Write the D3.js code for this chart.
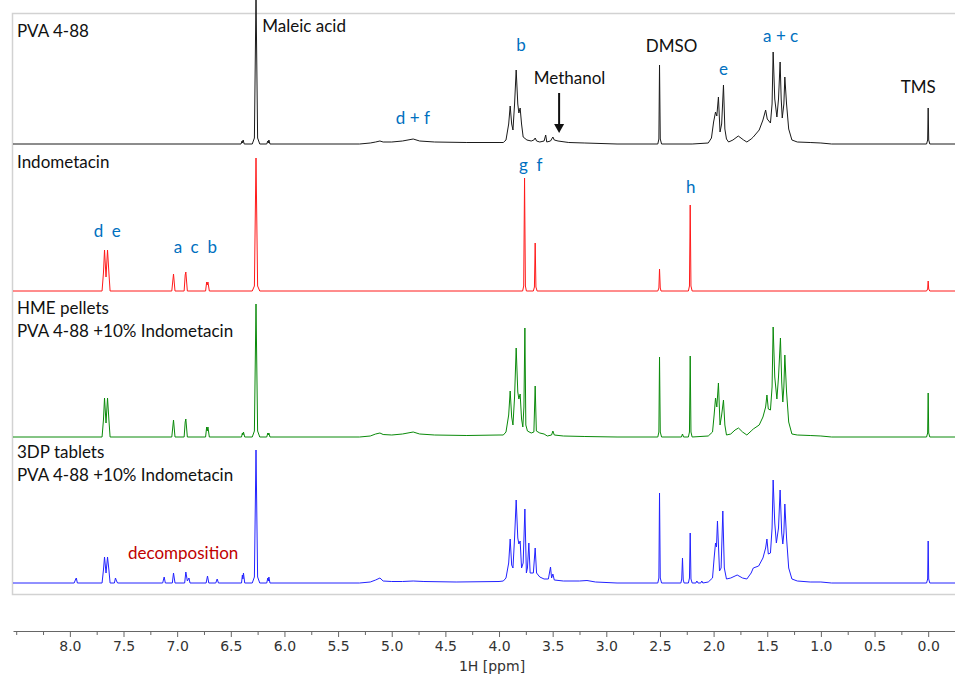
<!DOCTYPE html>
<html>
<head>
<meta charset="utf-8">
<script src="https://cdn.jsdelivr.net/npm/d3@7"></script>
<style>
  body { margin: 0; background: #fff; }
  .label { font-family: Lato, "Open Sans", sans-serif; font-size: 17px; }
  .axis text { font-family: "DejaVu Sans", Verdana, sans-serif; font-size: 14px; fill: #333; }
  .axis path, .axis line { stroke: #666; }
</style>
</head>
<body>
<div class="nmr-container"></div>
<script>
// Spectra: [ppm, intensity] vertices (intensity ~ px above baseline)
const pvaSpectrum = [
  [8.53,0],[6.405,0],[6.395,3],[6.39,1],[6.385,4],[6.375,0],
  [6.30,0],[6.28,6],[6.265,150],[6.25,6],[6.23,0],
  [6.165,0],[6.155,3],[6.15,1],[6.145,4],[6.135,0],
  [5.30,0],[5.20,1],[5.15,2],[5.11,3],[5.08,2],[5.00,2],[4.90,3],[4.80,5],[4.74,3],[4.60,2],[4.30,1.5],[4.00,1.5],
  [3.96,1.5],[3.935,4],[3.91,20],[3.896,38],[3.882,20],[3.87,14],[3.855,40],[3.84,74],[3.825,40],[3.815,31],[3.803,36],[3.79,20],[3.775,7],[3.74,4],[3.70,3],[3.675,4],[3.663,6],[3.65,3],[3.62,2],[3.58,3],[3.565,9],[3.555,2],[3.52,3],[3.498,7],[3.485,4],[3.45,3],[3.35,1.5],[3.20,1],[2.90,0],
  [2.52,0],[2.51,5],[2.504,79],[2.497,5],[2.485,0],
  [2.20,0],[2.05,1],[2.02,6],[2.00,22],[1.982,32],[1.97,28],[1.955,47],[1.94,12],[1.925,20],[1.908,59],[1.895,15],[1.88,5],[1.86,2],[1.82,4],[1.77,8],[1.72,4],[1.69,2],[1.65,5],[1.63,7],[1.575,14],[1.54,24],[1.515,34],[1.50,25],[1.47,21],[1.455,40],[1.445,92],[1.43,45],[1.41,27],[1.395,45],[1.38,82],[1.37,45],[1.36,26],[1.345,40],[1.336,67],[1.32,40],[1.30,15],[1.27,4],[1.22,2],[1.10,1.5],[1.00,1],[0.90,0],
  [0.015,0],[0.005,4],[0.0,36],[-0.005,4],[-0.015,0],[-0.25,0]
];
const indoSpectrum = [
  [8.53,0],[7.70,0],[7.687,18],[7.677,41],[7.663,14],[7.649,41],[7.636,18],[7.625,0],
  [7.05,0],[7.034,17],[7.02,0],
  [6.935,0],[6.925,16],[6.919,19],[6.905,0],
  [6.735,0],[6.725,9],[6.72,6],[6.713,9],[6.70,0],
  [6.30,0],[6.28,5],[6.265,133],[6.25,5],[6.23,0],
  [3.78,0],[3.77,5],[3.762,113],[3.754,5],[3.745,0],
  [3.68,0],[3.67,4],[3.663,48],[3.656,4],[3.645,0],
  [2.52,0],[2.51,3],[2.504,22],[2.497,3],[2.49,0],
  [2.235,0],[2.225,5],[2.218,86],[2.211,5],[2.20,0],
  [0.015,0],[0.005,2],[0.0,10],[-0.005,2],[-0.015,0],[-0.25,0]
];
const hmeSpectrum = [
  [8.53,0],[7.70,0],[7.687,17],[7.677,39],[7.663,14],[7.649,39],[7.636,17],[7.625,0],
  [7.05,0],[7.034,17],[7.02,0],
  [6.935,0],[6.925,15],[6.919,18],[6.905,0],
  [6.735,0],[6.725,10],[6.72,6],[6.713,10],[6.70,0],
  [6.40,0],[6.392,4],[6.387,2],[6.382,5],[6.37,0],
  [6.30,0],[6.28,6],[6.265,133],[6.25,6],[6.23,0],
  [6.165,0],[6.155,4],[6.15,2],[6.145,4],[6.135,0],
  [5.30,0],[5.20,1],[5.15,3],[5.11,4],[5.08,2.5],[5.00,2],[4.90,3],[4.80,5],[4.74,3],[4.60,2],[4.30,1.5],[4.00,2],
  [3.96,2],[3.935,5],[3.91,22],[3.896,46],[3.882,20],[3.87,12],[3.855,40],[3.84,89],[3.825,45],[3.815,38],[3.803,43],[3.79,18],[3.778,10],[3.768,30],[3.759,109],[3.75,12],[3.735,6],[3.70,4],[3.675,5],[3.663,51],[3.652,6],[3.62,4],[3.58,3],[3.55,1],[3.51,2],[3.498,6],[3.485,2],[3.40,1],[3.20,0.5],[2.90,0],
  [2.52,0],[2.51,5],[2.504,80],[2.497,5],[2.485,0],
  [2.30,0],[2.29,3],[2.28,0],
  [2.235,0],[2.225,5],[2.218,81],[2.211,5],[2.20,0],
  [2.05,1],[2.01,5],[1.995,22],[1.982,39],[1.97,30],[1.955,54],[1.94,12],[1.925,22],[1.908,37],[1.895,12],[1.88,2],[1.84,3],[1.80,7],[1.768,9],[1.73,5],[1.69,2],[1.65,6],[1.63,8],[1.575,12],[1.54,20],[1.515,30],[1.503,42],[1.49,28],[1.47,27],[1.455,50],[1.445,110],[1.43,60],[1.41,38],[1.395,60],[1.377,99],[1.365,55],[1.355,35],[1.345,50],[1.336,82],[1.32,45],[1.30,15],[1.27,3],[1.22,2],[1.10,1.5],[1.00,1],[0.90,0],
  [0.015,0],[0.005,4],[0.0,44],[-0.005,4],[-0.015,0],[-0.25,0]
];
const tabletSpectrum = [
  [8.53,0],[7.96,0],[7.945,4],[7.94,5],[7.93,0],
  [7.70,0],[7.687,13],[7.677,26],[7.663,10],[7.649,26],[7.636,13],[7.625,0],
  [7.585,0],[7.575,5],[7.565,2],[7.555,0],
  [7.135,0],[7.121,6],[7.11,0],
  [7.045,0],[7.034,10],[7.02,0],
  [6.93,0],[6.919,11],[6.905,2],[6.89,5],[6.88,0],
  [6.73,0],[6.717,7],[6.705,0],
  [6.64,0],[6.627,4],[6.615,0],
  [6.40,0],[6.392,8],[6.387,4],[6.382,10],[6.37,0],
  [6.30,0],[6.28,6],[6.265,133],[6.25,6],[6.23,0],
  [6.165,0],[6.155,5],[6.15,2],[6.145,6],[6.135,0],
  [5.30,0],[5.20,1],[5.15,3],[5.11,5],[5.08,2],[5.00,1.5],[4.90,1.5],[4.80,2],[4.70,1.5],[4.40,1],[4.00,1.5],
  [3.96,2],[3.935,5],[3.91,20],[3.896,44],[3.882,18],[3.87,15],[3.855,45],[3.84,83],[3.825,45],[3.815,39],[3.803,42],[3.79,15],[3.775,20],[3.759,74],[3.745,10],[3.735,15],[3.722,40],[3.71,10],[3.68,10],[3.663,35],[3.65,10],[3.62,6],[3.58,4],[3.54,4],[3.52,16],[3.51,5],[3.498,9],[3.485,3],[3.40,2],[3.25,2],[3.18,2.5],[3.10,1],[2.90,0],
  [2.52,0],[2.51,5],[2.504,90],[2.497,5],[2.485,0],
  [2.305,0],[2.297,4],[2.29,25],[2.283,3],[2.275,0],
  [2.235,0],[2.225,5],[2.218,50],[2.211,4],[2.20,0],
  [2.165,0],[2.156,2],[2.145,0],[2.12,0],[2.11,2],[2.10,0],
  [2.05,1],[2.01,5],[1.995,25],[1.982,40],[1.973,36],[1.964,62],[1.945,12],[1.93,15],[1.914,72],[1.90,15],[1.88,4],[1.84,5],[1.80,7],[1.78,8],[1.73,5],[1.69,4],[1.65,10],[1.63,15],[1.58,17],[1.54,25],[1.515,35],[1.503,44],[1.49,29],[1.47,30],[1.455,55],[1.445,103],[1.43,60],[1.415,40],[1.395,55],[1.38,93],[1.365,50],[1.355,39],[1.345,50],[1.336,79],[1.32,45],[1.30,15],[1.27,4],[1.22,2],[1.10,1],[1.00,1],[0.90,0],
  [0.015,0],[0.005,4],[0.0,42],[-0.005,4],[-0.015,0],[-0.25,0]
];

const sampleNames = [['PVA 4-88'], ['Indometacin'], ['HME pellets', 'PVA 4-88 +10% Indometacin'], ['3DP tablets', 'PVA 4-88 +10% Indometacin']];
const spectra = [pvaSpectrum, indoSpectrum, hmeSpectrum, tabletSpectrum];
const lineColors = ['#1a1a1a', '#ff1a1a', '#0a8a0a', '#2222ff'];

// peak labels: [text, ppm, panel]
const peakLabels = [
  ['Maleic acid', 6.207, 0], ['d + f', 4.803, 0], ['b', 3.796, 0], ['Methanol', 3.343, 0],
  ['DMSO', 2.392, 0], ['e', 1.908, 0], ['a + c', 1.375, 0], ['TMS', 0.093, 0],
  ['d', 7.733, 1], ['e', 7.568, 1], ['a', 6.993, 1], ['c', 6.838, 1], ['b', 6.673, 1],
  ['g', 3.772, 1], ['f', 3.623, 1], ['h', 2.212, 1],
  ['decomposition', 6.944, 3]
];
const majorTicks = [8.0, 7.5, 7.0, 6.5, 6.0, 5.5, 5.0, 4.5, 4.0, 3.5, 3.0, 2.5, 2.0, 1.5, 1.0, 0.5, 0.0];
const minorTicks = [8.5, 8.25, 7.75, 7.25, 6.75, 6.25, 5.75, 5.25, 4.75, 4.25, 3.75, 3.25, 2.75, 2.25, 1.75, 1.25, 0.75, 0.25];
const methanolPpm = 3.44;

// layout
const svg_width = 955, svg_height = 675;
const baselines = [144, 291, 437, 583];
const titleY = [37, 168, 314, 458];
// label y (px), same order as peakLabels
const labelY = [32, 124, 51, 84, 51.5, 75, 41.7, 93, 236.7, 236.7, 253.3, 253.3, 253.3, 171, 171, 192.7, 559.3];
const labelColor = {'Maleic acid':'#111','Methanol':'#111','DMSO':'#111','TMS':'#111','decomposition':'#c00000'};

const svg = d3.select('.nmr-container').append('svg')
  .attr('width', svg_width).attr('height', svg_height);

const xScale = d3.scaleLinear().domain([8.53, -0.25]).range([13, 955]);

// light frame around the stacked spectra
svg.append('rect')
  .attr('x', 12.5).attr('y', 13.5).attr('width', 960).attr('height', 581)
  .attr('fill', 'none').attr('stroke', '#d2d2d2').attr('stroke-width', 1.5);

// spectra
spectra.forEach((spec, i) => {
  const yScale = d3.scaleLinear().domain([0, 100]).range([baselines[i], baselines[i] - 100]);
  const line = d3.line().x(d => xScale(d[0])).y(d => yScale(d[1]));
  svg.append('path').datum(spec)
    .attr('d', line)
    .attr('fill', 'none')
    .attr('stroke', lineColors[i])
    .attr('stroke-width', 1)
    .attr('stroke-linejoin', 'round');

  // sample name(s)
  const t = svg.append('text').attr('class', 'label').attr('fill', '#111');
  sampleNames[i].forEach((s, k) => {
    t.append('tspan').attr('x', 17).attr('y', titleY[i] + k * 22.5).text(s);
  });
});

// peak labels
peakLabels.forEach((p, k) => {
  const anchor = p[0] === 'Maleic acid' ? 'start' : 'middle';
  svg.append('text').attr('class', 'label')
    .attr('x', xScale(p[1])).attr('y', labelY[k])
    .attr('text-anchor', anchor)
    .attr('fill', labelColor[p[0]] || '#0070c0')
    .text(p[0]);
});

// methanol arrow
const ax = xScale(methanolPpm);
svg.append('line').attr('x1', ax).attr('x2', ax).attr('y1', 93).attr('y2', 126)
  .attr('stroke', '#111').attr('stroke-width', 2);
svg.append('path')
  .attr('d', `M${ax - 5},${124} L${ax + 5},${124} L${ax},${133} Z`)
  .attr('fill', '#111');

// ppm axis
const xAxis = d3.axisBottom(xScale)
  .tickValues(majorTicks)
  .tickFormat(d3.format('.1f'))
  .tickSizeInner(6).tickSizeOuter(0).tickPadding(4);
svg.append('g').attr('class', 'axis').attr('transform', 'translate(0,631)').call(xAxis);

const minorAxis = d3.axisBottom(xScale).tickValues(minorTicks).tickFormat('').tickSize(4);
const minorDraw = svg.append('g').attr('class', 'axis').attr('transform', 'translate(0,631)').call(minorAxis);
minorDraw.select('.domain').remove();

svg.append('text')
  .attr('x', 492).attr('y', 671).attr('text-anchor', 'middle')
  .style('font-family', '"DejaVu Sans", Verdana, sans-serif').style('font-size', '14px').attr('fill', '#333')
  .text('1H [ppm]');
</script>
</body>
</html>
